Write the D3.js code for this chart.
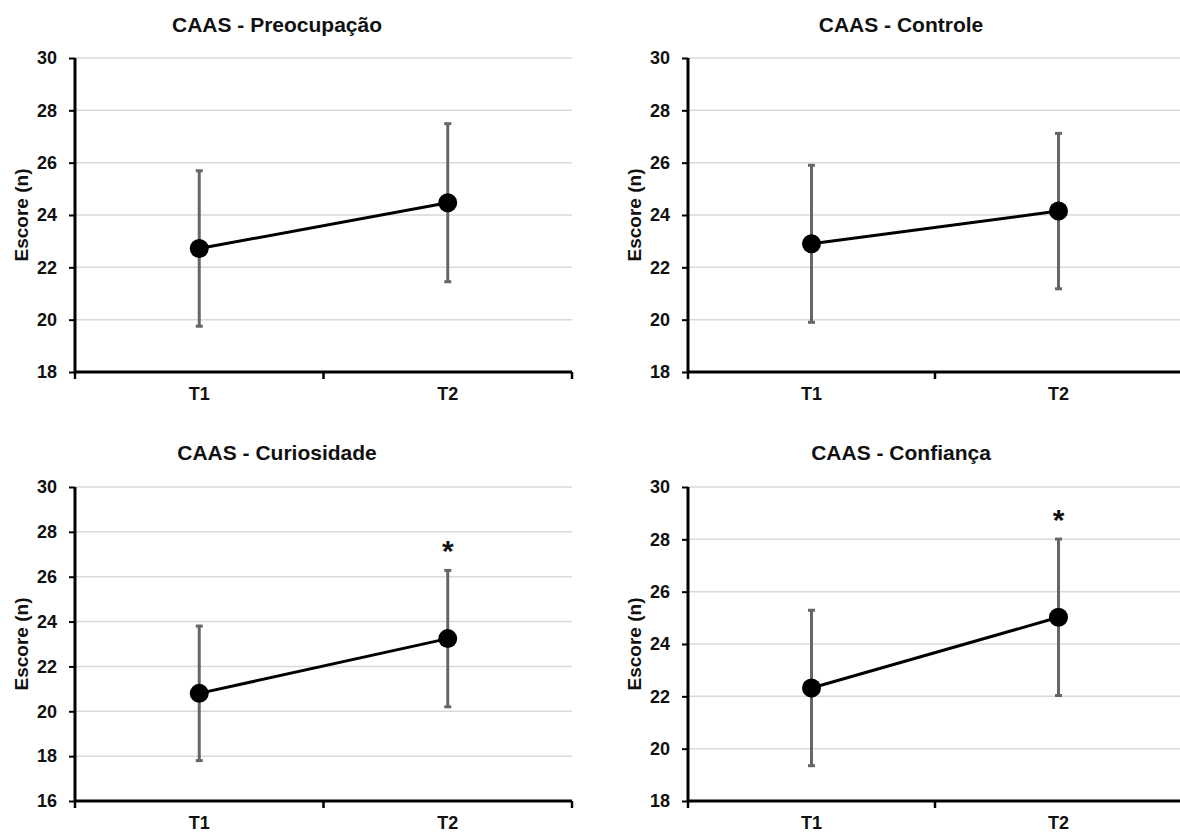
<!DOCTYPE html>
<html lang="pt">
<head>
  <meta charset="UTF-8">
  <title>CAAS</title>
  <script src="https://cdn.jsdelivr.net/npm/d3@7"></script>
  <style>
    body { margin: 0; background: #fff; }
    text { font-family: "Liberation Sans", Arial, sans-serif; font-weight: bold; fill: #111; }
  </style>
</head>
<body>
<svg width="1180" height="833"></svg>
<script>
// dados
var titles = ["CAAS - Preocupação", "CAAS - Controle", "CAAS - Curiosidade", "CAAS - Confiança"];
var times = ["T1", "T2"];
var means = [[22.72, 24.47], [22.9, 24.15], [20.8, 23.24], [22.32, 25.02]];
var sds = [[2.97, 3.02], [3.0, 2.97], [3.0, 3.04], [2.97, 2.99]];
var yMins = [18, 18, 16, 18];
var yMax = 30;
var signif = [[false, false], [false, false], [false, true], [false, true]];

var svg = d3.select("svg");

// posicoes dos paineis
var panels = [
  {x: 75, y: 58, w: 497, h: 314, tx: 277, ty: 32, lx: 21},
  {x: 688, y: 58, w: 494, h: 314, tx: 901, ty: 32, lx: 634},
  {x: 75, y: 487, w: 497, h: 314, tx: 277, ty: 460, lx: 21},
  {x: 688, y: 487, w: 494, h: 314, tx: 901, ty: 460, lx: 634}
];

panels.forEach(function(p, i) {
  var x = d3.scaleBand().domain(times).range([0, p.w]);
  var y = d3.scaleLinear().domain([yMins[i], yMax]).range([p.h, 0]);
  var ticks = d3.range(yMins[i], yMax + 1, 2);

  var g = svg.append("g").attr("transform", "translate(" + p.x + "," + p.y + ")");

  // grade
  g.selectAll(".grid").data(ticks.slice(1)).enter().append("line")
    .attr("x1", 0).attr("x2", p.w)
    .attr("y1", function(d) { return y(d); }).attr("y2", function(d) { return y(d); })
    .attr("stroke", "#d9d9d9").attr("stroke-width", 1.5);

  // eixo y
  var ya = g.append("g").call(d3.axisLeft(y).tickValues(ticks).tickSize(6).tickPadding(12));
  ya.select(".domain").attr("stroke", "#000").attr("stroke-width", 3).attr("d", "M0," + p.h + "V0");
  ya.selectAll(".tick line").attr("stroke", "#000").attr("stroke-width", 2);
  ya.selectAll(".tick text").style("font-size", "18px").style("font-family", "Liberation Sans, Arial").style("font-weight", "bold").attr("fill", "#111");

  // eixo x
  var xa = g.append("g").attr("transform", "translate(0," + p.h + ")")
    .call(d3.axisBottom(x).tickSize(0).tickPadding(15));
  xa.select(".domain").attr("stroke", "#000").attr("stroke-width", 3).attr("d", "M0,0H" + p.w);
  xa.selectAll(".tick text").style("font-size", "18px").style("font-family", "Liberation Sans, Arial").style("font-weight", "bold").attr("fill", "#111");
  xa.selectAll(".bt").data([0, p.w / 2, p.w]).enter().append("line")
    .attr("x1", function(d) { return d; }).attr("x2", function(d) { return d; })
    .attr("y1", 0).attr("y2", 7).attr("stroke", "#000").attr("stroke-width", 2.5);

  var pts = times.map(function(t, j) {
    return {t: t, m: means[i][j], s: sds[i][j], sig: signif[i][j]};
  });
  var cx = function(d) { return x(d.t) + x.bandwidth() / 2; };

  // barras de erro
  g.selectAll(".err").data(pts).enter().append("line")
    .attr("x1", cx).attr("x2", cx)
    .attr("y1", function(d) { return y(d.m - d.s); })
    .attr("y2", function(d) { return y(d.m + d.s); })
    .attr("stroke", "#666").attr("stroke-width", 3);
  [-1, 1].forEach(function(k) {
    g.selectAll(".cap" + k).data(pts).enter().append("line")
      .attr("x1", function(d) { return cx(d) - 3.5; }).attr("x2", function(d) { return cx(d) + 3.5; })
      .attr("y1", function(d) { return y(d.m + k * d.s); })
      .attr("y2", function(d) { return y(d.m + k * d.s); })
      .attr("stroke", "#666").attr("stroke-width", 3);
  });

  // linha e pontos
  g.append("path").datum(pts)
    .attr("d", d3.line().x(cx).y(function(d) { return y(d.m); }))
    .attr("fill", "none").attr("stroke", "#000").attr("stroke-width", 3);
  g.selectAll(".pt").data(pts).enter().append("circle")
    .attr("cx", cx).attr("cy", function(d) { return y(d.m); })
    .attr("r", 9.5).attr("fill", "#000");

  // asterisco
  g.selectAll(".ast").data(pts.filter(function(d) { return d.sig; })).enter().append("text")
    .attr("x", cx).attr("y", function(d) { return y(d.m + d.s) - 9; })
    .attr("text-anchor", "middle").style("font-size", "30px").text("*");

  // titulo e rotulo
  svg.append("text").attr("x", p.tx).attr("y", p.ty).attr("text-anchor", "middle")
    .style("font-size", "21px").text(titles[i]);
  svg.append("text").attr("transform", "translate(" + p.lx + "," + (p.y + p.h / 2) + ") rotate(-90)")
    .attr("text-anchor", "middle").attr("dy", "0.35em").style("font-size", "19px").text("Escore (n)");
});
</script>
</body>
</html>
